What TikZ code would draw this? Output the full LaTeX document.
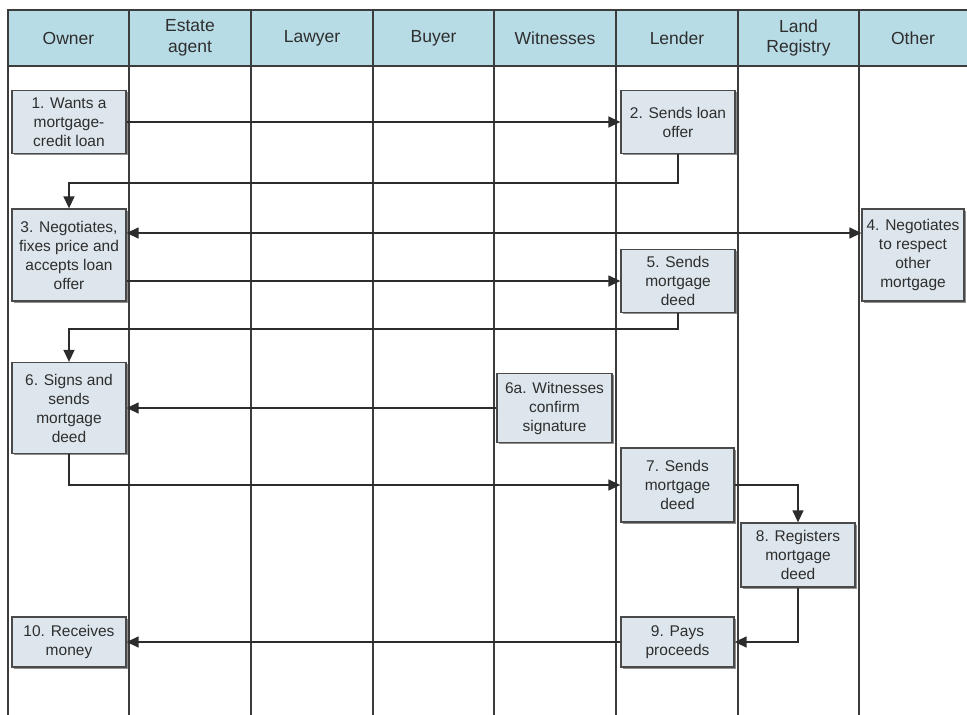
\documentclass[tikz,border=0pt]{standalone}
\usepackage{fontspec}
\setmainfont{Liberation Sans}
\usetikzlibrary{arrows.meta,shadows}
\definecolor{headfill}{HTML}{B8DCE6}
\definecolor{boxfill}{HTML}{DCE6EC}
\definecolor{boxedge}{HTML}{4A4A4A}
\definecolor{laneline}{HTML}{3C3C3C}
\definecolor{flowline}{HTML}{2C2C2C}
\definecolor{inktext}{HTML}{2E2E2E}
\tikzset{
  lane/.style={draw=laneline, line width=1.4pt},
  headlabel/.style={font=\fontsize{17.5}{20.5}\selectfont, text=inktext, align=center, inner sep=0pt},
  stepbox/.style={draw=boxedge, fill=boxfill, line width=1.3pt, inner sep=0pt,
    align=center, text=inktext, font=\fontsize{15.5}{19}\selectfont,
    drop shadow={shadow xshift=1.6pt, shadow yshift=-1.6pt, fill=black!55, opacity=0.8}},
  tip/.tip={Triangle[length=12pt,width=11pt]},
  flow/.style={draw=flowline, line width=1.4pt, -tip},
}
\begin{document}
\begin{tikzpicture}[x=1pt, y=-1pt]
\useasboundingbox (0,0) rectangle (967,715);
\fill[white] (0,0) rectangle (967,715);

% header band
\path[fill=headfill] (8,10) rectangle (975,66);
\draw[lane] (975,10) -- (8,10) -- (8,715);
\draw[lane] (8,66) -- (975,66);
\foreach \x in {129,251,373,494,616,738,859}
  \draw[lane] (\x,10) -- (\x,715);

% lane titles
\node[headlabel] (hOwner)   at (68.5,38) {Owner};
\node[headlabel] (hAgent)   at (190,38)  {Estate\\agent};
\node[headlabel] (hLawyer)  at (312,38)  {Lawyer};
\node[headlabel] (hBuyer)   at (433.5,38) {Buyer};
\node[headlabel] (hWitness) at (555,38)  {Witnesses};
\node[headlabel] (hLender)  at (677,38)  {Lender};
\node[headlabel] (hLand)    at (798.5,38) {Land\\Registry};
\node[headlabel] (hOther)   at (913,38)  {Other};

% process steps
\node[stepbox, minimum width=114pt, minimum height=63pt] (b1) at (69,122)
  {1. Wants a\\mortgage-\\credit loan};
\node[stepbox, minimum width=114pt, minimum height=63pt] (b2) at (678,122)
  {2. Sends loan\\offer};
\node[stepbox, minimum width=114pt, minimum height=92pt] (b3) at (69,255)
  {3. Negotiates,\\fixes price and\\accepts loan\\offer};
\node[stepbox, minimum width=102pt, minimum height=92pt] (b4) at (913,255)
  {4. Negotiates\\to respect\\other\\mortgage};
\node[stepbox, minimum width=114pt, minimum height=63pt] (b5) at (678,281)
  {5. Sends\\mortgage\\deed};
\node[stepbox, minimum width=114pt, minimum height=91pt] (b6) at (69,408)
  {6. Signs and\\sends\\mortgage\\deed};
\node[stepbox, minimum width=115pt, minimum height=69pt] (b6a) at (554.5,408)
  {6a. Witnesses\\confirm\\signature};
\node[stepbox, minimum width=113pt, minimum height=74pt] (b7) at (677.5,485)
  {7. Sends\\mortgage\\deed};
\node[stepbox, minimum width=114pt, minimum height=64pt] (b8) at (798,555)
  {8. Registers\\mortgage\\deed};
\node[stepbox, minimum width=113pt, minimum height=50pt] (b9) at (677.5,642)
  {9. Pays\\proceeds};
\node[stepbox, minimum width=114pt, minimum height=50pt] (b10) at (69,642)
  {10. Receives\\money};

% connectors
\draw[flow] (b1.east) -- (b2.west);
\draw[flow] (b2.south) -- ++(0,29) -| (b3.north);
\draw[flow, tip-tip] ([yshift=22pt]b3.east) -- ([yshift=22pt]b4.west);
\draw[flow] (b3.east |- b5.west) -- (b5.west);
\draw[flow] (b5.south) -- ++(0,16) -| (b6.north);
\draw[flow] (b6a.west) -- (b6.east |- b6a.west);
\draw[flow] (b6.south) |- (b7.west);
\draw[flow] (b7.east) -| (b8.north);
\draw[flow] (b8.south) |- (b9.east);
\draw[flow] (b9.west) -- (b10.east);
\end{tikzpicture}
\end{document}
